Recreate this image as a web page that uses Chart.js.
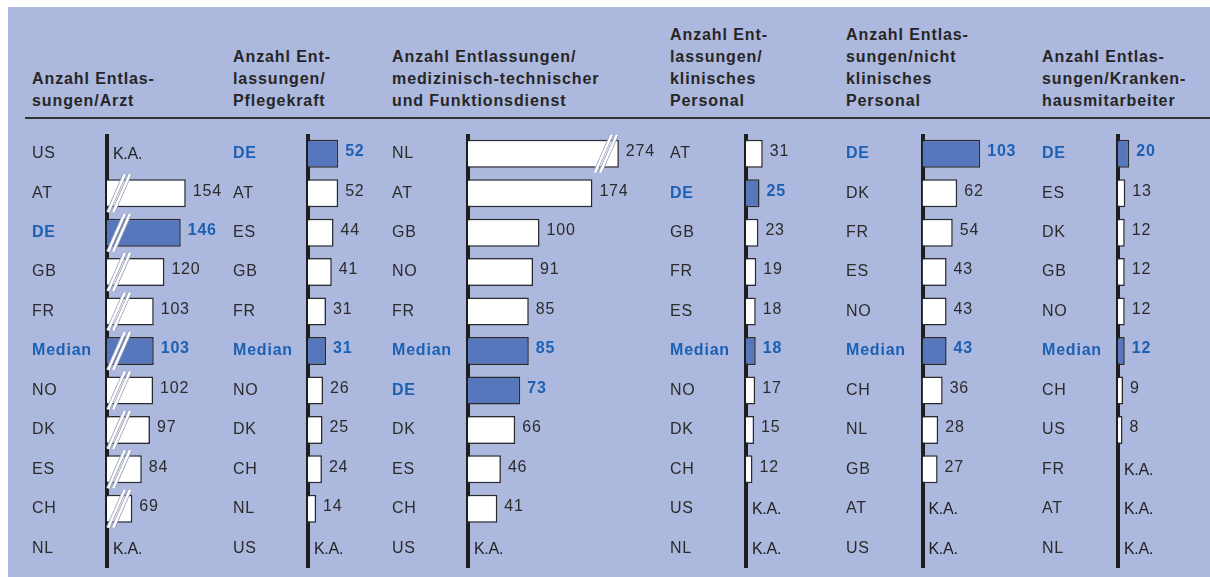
<!DOCTYPE html>
<html lang="de">
<head>
<meta charset="utf-8">
<title>Entlassungen je Mitarbeiter</title>
<script src="https://cdn.jsdelivr.net/npm/chart.js@4.4.1/dist/chart.umd.min.js"></script>
<style>
  html, body { margin: 0; padding: 0; background: #fff; }
  #board { position: relative; width: 1210px; height: 577px; overflow: hidden; }
  #panel { position: absolute; left: 8px; top: 7px; right: 0; bottom: 0; background: #adb8de; }
  #rule  { position: absolute; left: 25px; right: 0; top: 117px; height: 2px; background: #333; }
  .head  { position: absolute; bottom: 465px; white-space: nowrap;
           font: bold 16px "Liberation Sans", Arial, Helvetica, sans-serif;
           line-height: 22px; letter-spacing: 0.9px; color: #262626; }
  canvas { position: absolute; top: 134px; }
</style>
</head>
<body>
<div id="board">
  <div id="panel"></div>
  <div id="rule"></div>
  <div class="head" style="left:32px">Anzahl Entlas-<br>sungen/Arzt</div>
  <div class="head" style="left:233px">Anzahl Ent-<br>lassungen/<br>Pflegekraft</div>
  <div class="head" style="left:392px">Anzahl Entlassungen/<br>medizinisch-technischer<br>und Funktionsdienst</div>
  <div class="head" style="left:670px">Anzahl Ent-<br>lassungen/<br>klinisches<br>Personal</div>
  <div class="head" style="left:846px">Anzahl Entlas-<br>sungen/nicht<br>klinisches<br>Personal</div>
  <div class="head" style="left:1042px">Anzahl Entlas-<br>sungen/Kranken-<br>hausmitarbeiter</div>
</div>
<script>
/* --- Data (null = K.A.) ---------------------------------------------------- */
const arztLabels   = ['US', 'AT', 'DE', 'GB', 'FR', 'Median', 'NO', 'DK', 'ES', 'CH', 'NL'];
const arztValues   = [null, 154, 146, 120, 103, 103, 102, 97, 84, 69, null];

const pflegeLabels = ['DE', 'AT', 'ES', 'GB', 'FR', 'Median', 'NO', 'DK', 'CH', 'NL', 'US'];
const pflegeValues = [52, 52, 44, 41, 31, 31, 26, 25, 24, 14, null];

const medtechLabels = ['NL', 'AT', 'GB', 'NO', 'FR', 'Median', 'DE', 'DK', 'ES', 'CH', 'US'];
const medtechValues = [274, 174, 100, 91, 85, 85, 73, 66, 46, 41, null];

const klinLabels   = ['AT', 'DE', 'GB', 'FR', 'ES', 'Median', 'NO', 'DK', 'CH', 'US', 'NL'];
const klinValues   = [31, 25, 23, 19, 18, 18, 17, 15, 12, null, null];

const nichtKlinLabels = ['DE', 'DK', 'FR', 'ES', 'NO', 'Median', 'CH', 'NL', 'GB', 'AT', 'US'];
const nichtKlinValues = [103, 62, 54, 43, 43, 43, 36, 28, 27, null, null];

const khLabels     = ['DE', 'ES', 'DK', 'GB', 'NO', 'Median', 'CH', 'US', 'FR', 'AT', 'NL'];
const khValues     = [20, 13, 12, 12, 12, 12, 9, 8, null, null, null];

/* --- Look ------------------------------------------------------------------ */
const FONT      = '"Liberation Sans", Arial, Helvetica, sans-serif';
const TEXT      = '#2b2b2b';
const BLUE_TEXT = '#1c60b2';
const BLUE_BAR  = '#5677bc';
const CANVAS_H  = 434;

const isHi = l => l === 'DE' || l === 'Median';

// left = label column, axis = axis line, ppu = px per unit, min = axis start value
const panels = [
  { labels: arztLabels,      values: arztValues,      left: 32,   axis: 107,   next: 233,  ppu: 0.628, min: 28.6, slashAll: true },
  { labels: pflegeLabels,    values: pflegeValues,    left: 233,  axis: 308,   next: 392,  ppu: 0.58,  min: 0 },
  { labels: medtechLabels,   values: medtechValues,   left: 392,  axis: 468,   next: 670,  ppu: 0.715, min: 0, cap: 211 },
  { labels: klinLabels,      values: klinValues,      left: 670,  axis: 746,   next: 846,  ppu: 0.54,  min: 0 },
  { labels: nichtKlinLabels, values: nichtKlinValues, left: 846,  axis: 922.5, next: 1042, ppu: 0.56,  min: 0 },
  { labels: khLabels,        values: khValues,        left: 1042, axis: 1118,  next: 1210, ppu: 0.56,  min: 0 }
];

/* --- Helpers --------------------------------------------------------------- */
function slash(ctx, cx, top, bottom) {
  const lean = (bottom - top) * 0.22;
  [-2.6, 2.6].forEach(off => {
    ctx.beginPath();
    ctx.moveTo(cx + off - lean, bottom);
    ctx.lineTo(cx + off + lean, top);
    ctx.strokeStyle = '#9aa0b8'; ctx.lineWidth = 4; ctx.stroke();
    ctx.strokeStyle = '#ffffff'; ctx.lineWidth = 2.4; ctx.stroke();
  });
}

// value labels, K.A. and the axis-break marks
const barNotes = {
  id: 'barNotes',
  beforeDraw(chart) { chart.ctx.letterSpacing = '0.8px'; },
  afterDatasetsDraw(chart, args, opts) {
    const ctx = chart.ctx, area = chart.chartArea;
    const meta = chart.getDatasetMeta(0);
    ctx.save();
    ctx.textBaseline = 'middle';
    ctx.textAlign = 'left';
    meta.data.forEach((bar, i) => {
      const label = chart.data.labels[i];
      const v = opts.values[i];
      const y = chart.scales.y.getPixelForValue(i);
      if (v === null) {
        ctx.letterSpacing = '-0.3px';
        ctx.font = '16px ' + FONT;
        ctx.fillStyle = '#222';
        ctx.fillText('K.A.', area.left + 6, y + 1);
        ctx.letterSpacing = '0.8px';
        return;
      }
      const half = bar.height / 2;
      if (opts.slashAll) slash(ctx, area.left + 12, y - half - 5, y + half + 5);
      if (opts.cap && v > opts.cap) slash(ctx, bar.x - 13, y - half - 5, y + half + 5);
      ctx.font = (isHi(label) ? 'bold ' : '') + '16px ' + FONT;
      ctx.fillStyle = isHi(label) ? BLUE_TEXT : TEXT;
      ctx.fillText(String(v), bar.x + 7, y - 2);
    });
    ctx.restore();
  }
};

/* --- Charts ---------------------------------------------------------------- */
const board = document.getElementById('board');

panels.forEach(p => {
  const w = p.next - p.left;
  const axisW = p.axis - p.left;
  const canvas = document.createElement('canvas');
  canvas.width = w; canvas.height = CANVAS_H;
  canvas.style.left = p.left + 'px';
  board.appendChild(canvas);

  const shown = p.values.map(v => (p.cap && v > p.cap ? p.cap : v));

  new Chart(canvas.getContext('2d'), {
    type: 'bar',
    data: {
      labels: p.labels,
      datasets: [{
        data: shown,
        base: p.min,
        backgroundColor: p.labels.map(l => (isHi(l) ? BLUE_BAR : '#ffffff')),
        borderColor: '#2b2b2b',
        borderWidth: 1.5,
        categoryPercentage: 1,
        barPercentage: 0.71
      }]
    },
    options: {
      indexAxis: 'y',
      responsive: false,
      animation: false,
      layout: { padding: 0 },
      plugins: {
        legend: { display: false },
        tooltip: { enabled: false },
        barNotes: { values: p.values, slashAll: !!p.slashAll, cap: p.cap || 0 }
      },
      scales: {
        x: { display: false, min: p.min, max: p.min + (w - axisW) / p.ppu },
        y: {
          z: 1,
          grid: { display: false },
          border: { display: true, color: '#1e1e1e', width: 4 },
          ticks: {
            autoSkip: false,
            crossAlign: 'far',
            color: c => (isHi(p.labels[c.index]) ? BLUE_TEXT : TEXT),
            font: c => ({ family: FONT, size: 16, weight: isHi(p.labels[c.index]) ? 'bold' : 'normal' })
          },
          afterFit(scale) {
            scale.width = axisW;
            scale.paddingTop = 0;
            scale.paddingBottom = 0;
          }
        }
      }
    },
    plugins: [barNotes]
  });
});
</script>
</body>
</html>
